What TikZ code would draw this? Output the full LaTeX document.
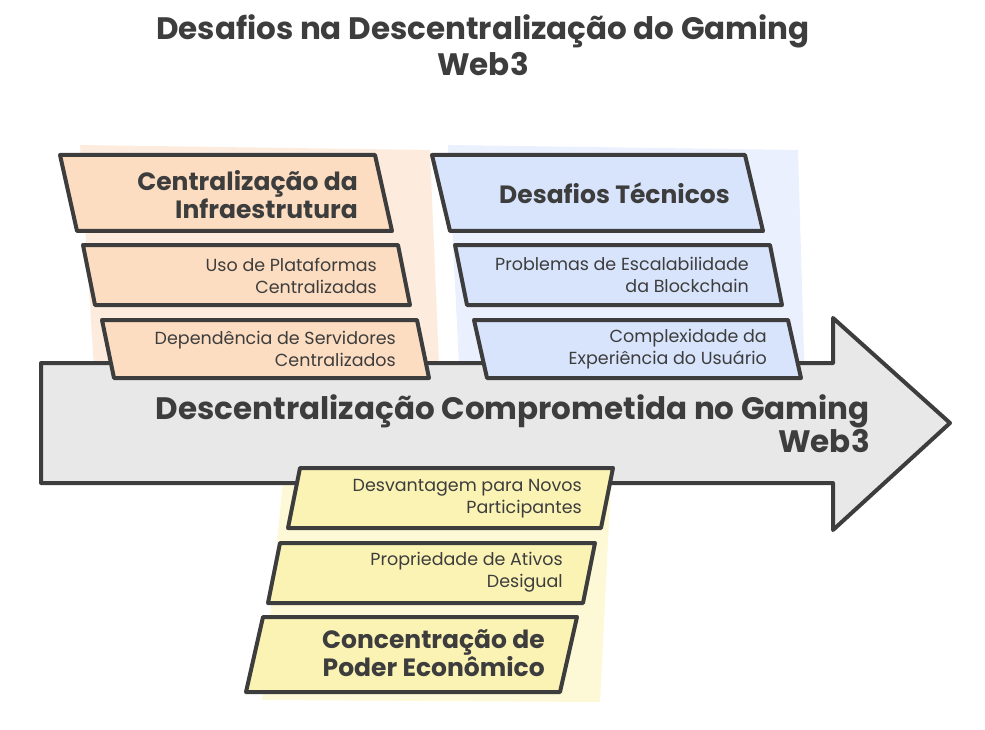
\documentclass[tikz,border=0pt]{standalone}
\usepackage{fontspec}
\setmainfont{Poppins}
\usetikzlibrary{positioning}
\definecolor{ink}{HTML}{3D3D3D}
\definecolor{orfill}{HTML}{FCDDC1}
\definecolor{blfill}{HTML}{D8E4FB}
\definecolor{yefill}{HTML}{FBF3B4}
\definecolor{grfill}{HTML}{E8E8E8}
% slanted box: x-left, top, x-right, bottom, slant, colour
\newcommand{\slab}[6]{%
  \draw[pbox, fill=#6] (#1,#2) -- (#3,#2) -- (#3+#5,#4) -- (#1+#5,#4) -- cycle;}

\begin{document}
\begin{tikzpicture}[x=1pt,y=-1pt]
		\tikzset{pbox/.style = {draw=ink, line width=4pt, line join=round}}
		\tikzset{lbl/.style = {inner sep=0pt, text=ink, align=right, anchor=east}}
		\tikzset{small/.style = {lbl, font=\fontsize{17.5}{22}\selectfont}}
		\tikzset{big/.style = {lbl, font=\fontsize{25}{28}\selectfont\bfseries}}
		\useasboundingbox (0,0) rectangle (985,730);
		% scribbled backdrops
		\fill[orfill!55!white] (80,145) -- (430,150) -- (440,388) -- (95,385) -- cycle;
		\fill[blfill!55!white] (448,145) -- (798,150) -- (805,388) -- (460,385) -- cycle;
		\fill[yefill!55!white] (285,460) -- (612,462) -- (600,702) -- (262,700) -- cycle;
		% arrow
		\draw[pbox, fill=grfill] (41,363) -- (833,363) -- (833,318) -- (950,423)
			-- (833,530) -- (833,483) -- (41,483) -- cycle;
		% boxes
		\slab{60}{155}{375}{231}{17}{orfill}
		\slab{83}{245}{398}{305}{12}{orfill}
		\slab{102}{320}{417}{378}{12}{orfill}
		\slab{432}{155}{745}{231}{18}{blfill}
		\slab{455}{245}{770}{305}{12}{blfill}
		\slab{474}{320}{788}{378}{13}{blfill}
		\slab{300}{468}{613}{528}{-12}{yefill}
		\slab{280}{543}{595}{603}{-12}{yefill}
		\slab{263}{617}{577}{692}{-17}{yefill}
		% labels
		\node[text=ink, align=center, inner sep=0pt, font=\fontsize{31}{36}\selectfont\bfseries]
			(t) at (483,45) {Desafios na Descentralização do Gaming\\Web3};
		\node[lbl, font=\fontsize{31}{33}\selectfont\bfseries]
			(m) at (870,424) {Descentralização Comprometida no Gaming\\Web3};
		\node[big] (ch) at (358,195) {Centralização da\\Infraestrutura};
		\node[small] (c1) at (377,276) {Uso de Plataformas\\Centralizadas};
		\node[small] (c2) at (396,349) {Dependência de Servidores\\Centralizados};
		\node[big] (dh) at (730,193) {Desafios Técnicos};
		\node[small] (d1) at (749,275) {Problemas de Escalabilidade\\da Blockchain};
		\node[small] (d2) at (767,349) {Complexidade da\\Experiência do Usuário};
		\node[small] (p1) at (582,499) {Desvantagem para Novos\\Participantes};
		\node[small] (p2) at (563,572) {Propriedade de Ativos\\Desigual};
		\node[big] (ph) at (545,653) {Concentração de\\Poder Econômico};
\end{tikzpicture}
\end{document}
